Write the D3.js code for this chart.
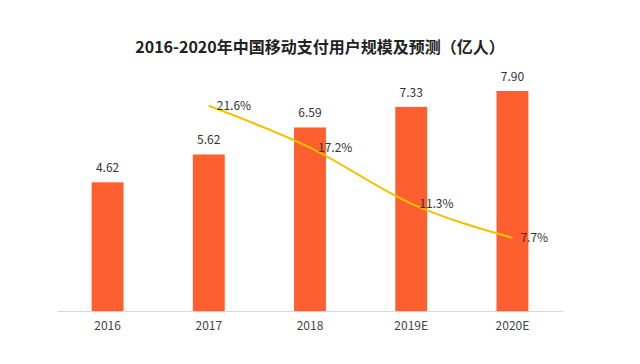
<!DOCTYPE html>
<html><head><meta charset="utf-8">
<script src="https://cdn.jsdelivr.net/npm/d3@7"></script>
<style>body{margin:0;background:#fff}svg{display:block}</style>
</head><body>
<svg id="c" width="640" height="364"></svg>
<script>
const categories = ["2016","2017","2018","2019E","2020E"];
const users = [4.62, 5.62, 6.59, 7.33, 7.90];
const userLabels = ["4.62","5.62","6.59","7.33","7.90"];
const growthYears = ["2017","2018","2019E","2020E"];
const growth = [21.6, 17.2, 11.3, 7.7];
const growthLabels = ["21.6%","17.2%","11.3%","7.7%"];
const title = "2016-2020年中国移动支付用户规模及预测（亿人）";

const svg = d3.select("#c");
const font = "'Noto Sans CJK SC','Noto Sans',sans-serif";
const base = 311;
const x = d3.scaleBand().domain(categories).range([57, 563]).paddingInner(0.685).paddingOuter(0.342);
const y = d3.scaleLinear().domain([0, 10]).range([base, base - 278.5]);
const y2 = d3.scaleLinear().domain([0, 30]).range([base, base - 285]);

svg.append("text").attr("x", 320).attr("y", 53).attr("text-anchor", "middle")
  .attr("font-family", font).attr("font-weight", "bold").attr("font-size", 16)
  .attr("fill", "#222").text(title);

svg.append("g").selectAll("rect").data(users).join("rect")
  .attr("x", (d, i) => x(categories[i])).attr("width", x.bandwidth())
  .attr("y", d => y(d)).attr("height", d => base - y(d)).attr("fill", "#fd5f2e");

svg.append("g").selectAll("text").data(users).join("text")
  .attr("x", (d, i) => x(categories[i]) + x.bandwidth() / 2).attr("y", d => y(d) - 10)
  .attr("text-anchor", "middle").attr("font-family", font).attr("font-size", 12)
  .attr("fill", "#333").text((d, i) => userLabels[i]);

const axis = d3.axisBottom(x).tickSize(0).tickPadding(10);
const ag = svg.append("g").attr("transform", `translate(0,${base})`).call(axis);
ag.select(".domain").attr("stroke", "#d9d9d9");
ag.selectAll("text").attr("font-family", font).attr("font-size", 12).attr("fill", "#444");

const cx = d => x(d) + x.bandwidth() / 2;
const line = d3.line().x((d, i) => cx(growthYears[i])).y(d => y2(d)).curve(d3.curveMonotoneX);
svg.append("path").datum(growth).attr("d", line).attr("fill", "none")
  .attr("stroke", "#f3c200").attr("stroke-width", 2);

svg.append("g").selectAll("text").data(growth).join("text")
  .attr("x", (d, i) => cx(growthYears[i]) + 8).attr("y", d => y2(d) + 4)
  .attr("font-family", font).attr("font-size", 12).attr("fill", "#333")
  .text((d, i) => growthLabels[i]);
</script>
</body></html>
